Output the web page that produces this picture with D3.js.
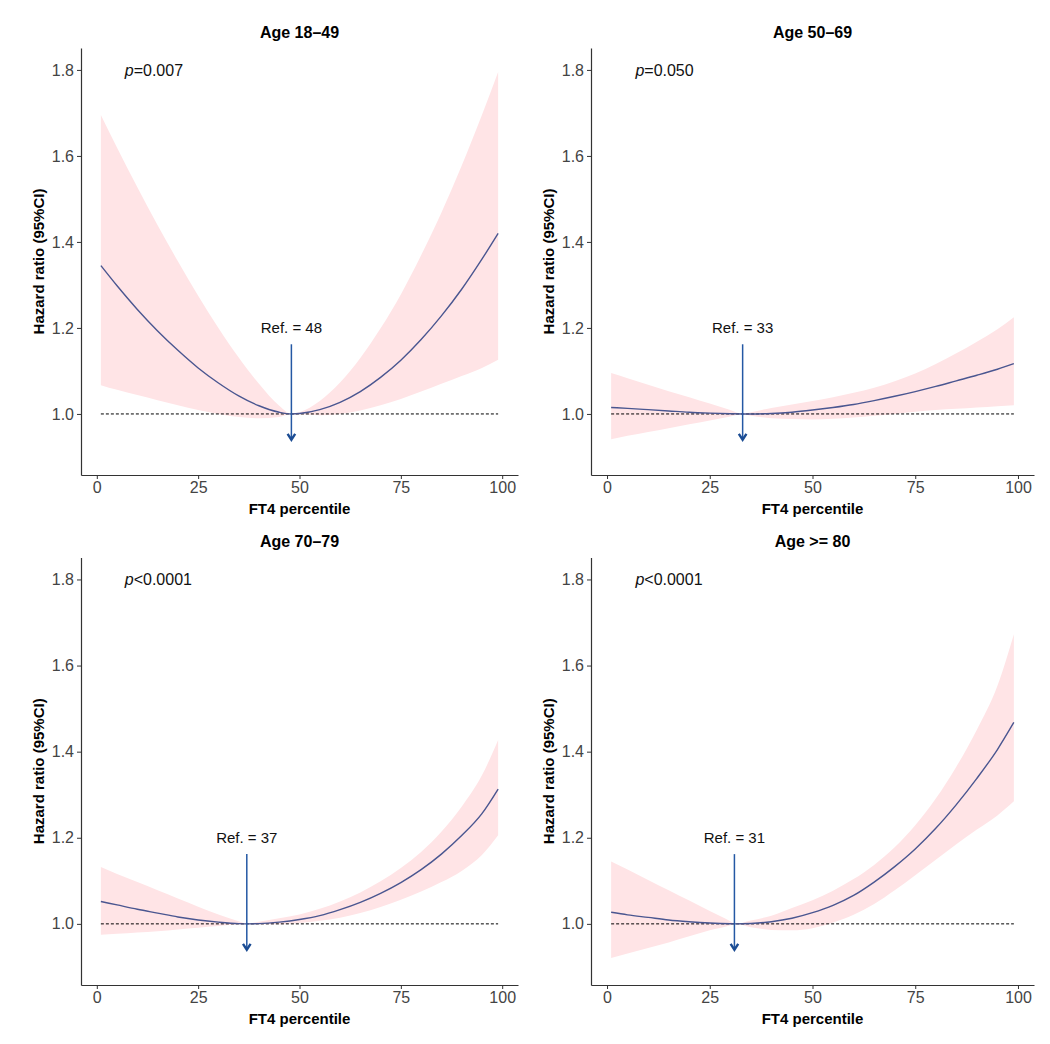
<!DOCTYPE html>
<html>
<head>
<meta charset="utf-8">
<script src="https://cdn.jsdelivr.net/npm/d3@7"></script>
<style>
  html, body { margin: 0; padding: 0; background: #fff; }
  svg { display: block; font-family: "Liberation Sans", Arial, Helvetica, sans-serif; }
</style>
</head>
<body>
<svg id="chart" width="1050" height="1044"></svg>
<script>
// ---------------- data ----------------
const titles = ["Age 18\u201349", "Age 50\u201369", "Age 70\u201379", "Age >= 80"];
const pLabels = ["=0.007", "=0.050", "<0.0001", "<0.0001"];
const refValues = [48, 33, 37, 31];

const xTicks = [0, 25, 50, 75, 100];
const yTicks = [1.0, 1.2, 1.4, 1.6, 1.8];

// Age 18-49
const x1849  = [1, 5, 10, 15, 20, 25, 30, 35, 40, 45, 48, 50, 55, 60, 65, 70, 75, 80, 85, 90, 95, 99];
const hr1849 = [1.345, 1.298, 1.243, 1.193, 1.148, 1.107, 1.072, 1.042, 1.019, 1.004, 1.000, 1.001, 1.010, 1.027, 1.052, 1.085, 1.125, 1.173, 1.228, 1.290, 1.360, 1.420];
const hi1849 = [1.695, 1.619, 1.527, 1.439, 1.355, 1.275, 1.200, 1.131, 1.070, 1.019, 1.000, 1.004, 1.030, 1.073, 1.130, 1.199, 1.278, 1.369, 1.468, 1.577, 1.695, 1.795];
const lo1849 = [1.067, 1.056, 1.044, 1.032, 1.020, 1.009, 1.000, 0.993, 0.990, 0.993, 1.000, 0.999, 0.997, 1.000, 1.008, 1.020, 1.035, 1.052, 1.070, 1.088, 1.107, 1.126];

// Age 50-69
const x5069  = [1, 5, 10, 15, 20, 25, 30, 33, 35, 40, 45, 50, 55, 60, 65, 70, 75, 80, 85, 90, 95, 99];
const hr5069 = [1.015, 1.013, 1.010, 1.007, 1.004, 1.002, 1.0005, 1.000, 1.000, 1.001, 1.004, 1.009, 1.015, 1.022, 1.031, 1.041, 1.052, 1.064, 1.077, 1.090, 1.104, 1.117];
const hi5069 = [1.095, 1.083, 1.068, 1.053, 1.039, 1.024, 1.009, 1.000, 1.004, 1.014, 1.022, 1.030, 1.039, 1.049, 1.061, 1.076, 1.094, 1.116, 1.141, 1.168, 1.197, 1.225];
const lo5069 = [0.941, 0.949, 0.958, 0.967, 0.976, 0.985, 0.994, 1.000, 0.996, 0.990, 0.988, 0.987, 0.989, 0.992, 0.996, 1.000, 1.005, 1.009, 1.012, 1.015, 1.018, 1.020];

// Age 70-79
const x7079  = [1, 5, 10, 15, 20, 25, 30, 35, 37, 40, 45, 50, 55, 60, 65, 70, 75, 80, 85, 90, 95, 99];
const hr7079 = [1.052, 1.044, 1.034, 1.025, 1.016, 1.009, 1.004, 1.0005, 1.000, 1.0005, 1.004, 1.010, 1.019, 1.033, 1.050, 1.071, 1.096, 1.126, 1.162, 1.205, 1.256, 1.313];
const hi7079 = [1.132, 1.116, 1.097, 1.078, 1.059, 1.040, 1.022, 1.006, 1.000, 1.005, 1.013, 1.022, 1.035, 1.052, 1.073, 1.099, 1.130, 1.167, 1.214, 1.272, 1.345, 1.427];
const lo7079 = [0.975, 0.977, 0.980, 0.983, 0.987, 0.991, 0.995, 0.999, 1.000, 0.999, 0.999, 1.002, 1.007, 1.014, 1.025, 1.039, 1.056, 1.075, 1.097, 1.123, 1.160, 1.206];

// Age >= 80
const x80  = [1, 5, 10, 15, 20, 25, 30, 31, 35, 40, 45, 50, 55, 60, 65, 70, 75, 80, 85, 90, 95, 99];
const hr80 = [1.027, 1.021, 1.015, 1.009, 1.005, 1.002, 1.0002, 1.000, 1.001, 1.005, 1.013, 1.026, 1.043, 1.066, 1.097, 1.133, 1.174, 1.222, 1.277, 1.338, 1.405, 1.468];
const hi80 = [1.145, 1.126, 1.102, 1.078, 1.054, 1.030, 1.006, 1.000, 1.008, 1.019, 1.037, 1.055, 1.077, 1.104, 1.137, 1.178, 1.229, 1.291, 1.365, 1.451, 1.553, 1.673];
const lo80 = [0.921, 0.931, 0.944, 0.957, 0.971, 0.985, 0.997, 1.000, 0.992, 0.986, 0.985, 0.990, 1.003, 1.021, 1.046, 1.078, 1.113, 1.149, 1.185, 1.219, 1.252, 1.285];

const seriesX  = [x1849, x5069, x7079, x80];
const seriesHR = [hr1849, hr5069, hr7079, hr80];
const seriesHi = [hi1849, hi5069, hi7079, hi80];
const seriesLo = [lo1849, lo5069, lo7079, lo80];

// ---------------- layout ----------------
const svg = d3.select("#chart");
const boxes = [
  {x0: 81,  x1: 518,  y0: 48,    y1: 475},
  {x0: 591, x1: 1034, y0: 48,    y1: 475},
  {x0: 81,  x1: 518,  y0: 557.5, y1: 985},
  {x0: 591, x1: 1034, y0: 557.5, y1: 985}
];
const xDomain = [-3.9, 103.9];
const yDomain = [0.858, 1.851];

const ribbonFill = "#FFE4E6";
const lineColor = "#4A5690";
const arrowColor = "#2458A4";
const tickTextColor = "#444444";
const axisColor = "#333333";

boxes.forEach((b, i) => {
  const x = d3.scaleLinear().domain(xDomain).range([b.x0, b.x1]);
  const y = d3.scaleLinear().domain(yDomain).range([b.y1, b.y0]);
  const g = svg.append("g");

  const rows = seriesX[i].map((v, k) => ({x: v, hr: seriesHR[i][k], hi: seriesHi[i][k], lo: seriesLo[i][k]}));

  // ribbon
  const area = d3.area().x(d => x(d.x)).y0(d => y(d.lo)).y1(d => y(d.hi)).curve(d3.curveMonotoneX);
  g.append("path").datum(rows).attr("d", area).attr("fill", ribbonFill);

  // reference dashed line
  const xs = seriesX[i];
  g.append("line")
    .attr("x1", x(xs[0])).attr("x2", x(xs[xs.length - 1]))
    .attr("y1", y(1)).attr("y2", y(1))
    .attr("stroke", "#000").attr("stroke-width", 1)
    .attr("stroke-dasharray", "3,2");

  // HR line
  const line = d3.line().x(d => x(d.x)).y(d => y(d.hr)).curve(d3.curveMonotoneX);
  g.append("path").datum(rows).attr("d", line)
    .attr("fill", "none").attr("stroke", lineColor).attr("stroke-width", 1.4);

  // arrow
  const rx = x(refValues[i]);
  const yTop = y(1.162), yTip = y(0.94);
  g.append("line").attr("x1", rx).attr("x2", rx).attr("y1", yTop).attr("y2", yTip - 1)
    .attr("stroke", arrowColor).attr("stroke-width", 1.5);
  g.append("path")
    .attr("d", `M${rx - 3.8},${yTip - 5.8} L${rx},${yTip} L${rx + 3.8},${yTip - 5.8}`)
    .attr("fill", "none").attr("stroke", "#1B4C93").attr("stroke-width", 2.4)
    .attr("stroke-linejoin", "miter");

  // ref label
  g.append("text").attr("x", rx).attr("y", y(1.2)).attr("dy", "0.35em")
    .attr("text-anchor", "middle").attr("font-size", 15).attr("fill", "#111")
    .text("Ref. = " + refValues[i]);

  // p label
  const pt = g.append("text").attr("x", x(6.9)).attr("y", y(1.8)).attr("dy", "0.35em")
    .attr("font-size", 16).attr("fill", "#111");
  pt.append("tspan").attr("font-style", "italic").text("p");
  pt.append("tspan").text(pLabels[i]);

  // axes
  const ax = g.append("g").attr("transform", `translate(0,${b.y1})`)
    .call(d3.axisBottom(x).tickValues(xTicks).tickSize(4).tickSizeOuter(0).tickPadding(3));
  const ay = g.append("g").attr("transform", `translate(${b.x0},0)`)
    .call(d3.axisLeft(y).tickValues(yTicks).tickFormat(d3.format(".1f")).tickSize(4).tickSizeOuter(0).tickPadding(3));
  [ax, ay].forEach(a => {
    a.select(".domain").attr("stroke", axisColor).attr("stroke-width", 1.2);
    a.selectAll(".tick line").attr("stroke", axisColor).attr("stroke-width", 1);
    a.selectAll(".tick text").attr("fill", tickTextColor).attr("font-size", 16)
      .attr("font-family", "Liberation Sans, Arial, sans-serif");
  });

  // titles
  g.append("text").attr("x", (b.x0 + b.x1) / 2).attr("y", b.y0 - 16).attr("dy", "0.35em")
    .attr("text-anchor", "middle").attr("font-weight", "bold").attr("font-size", 16).attr("fill", "#000")
    .text(titles[i]);
  g.append("text").attr("x", (b.x0 + b.x1) / 2).attr("y", b.y1 + 34).attr("dy", "0.35em")
    .attr("text-anchor", "middle").attr("font-weight", "bold").attr("font-size", 15).attr("fill", "#000")
    .text("FT4 percentile");
  g.append("text")
    .attr("transform", `translate(${b.x0 - 42},${(b.y0 + b.y1) / 2}) rotate(-90)`)
    .attr("dy", "0.35em").attr("text-anchor", "middle")
    .attr("font-weight", "bold").attr("font-size", 15).attr("fill", "#000")
    .text("Hazard ratio (95%CI)");
});
</script>
</body>
</html>
